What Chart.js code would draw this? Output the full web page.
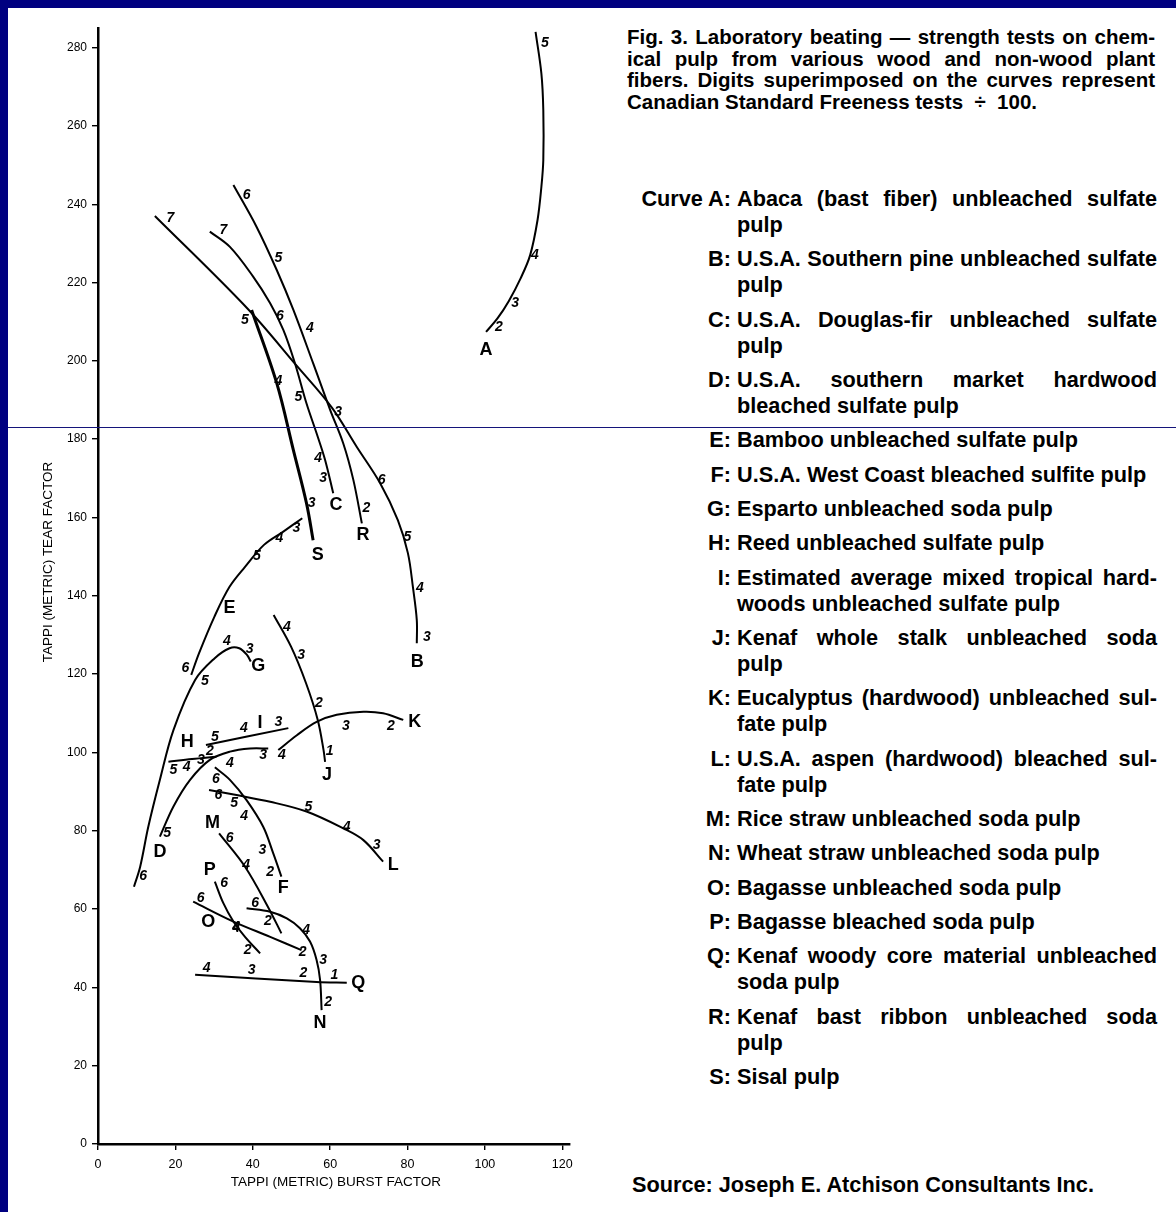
<!DOCTYPE html>
<html>
<head>
<meta charset="utf-8">
<script src="https://cdn.jsdelivr.net/npm/chart.js"></script>
<style>
  html, body { margin: 0; padding: 0; }
  body {
    width: 1176px; height: 1212px; position: relative; overflow: hidden;
    background: #000080;
    font-family: "Liberation Sans", Arial, sans-serif; color: #000;
  }
  .sheet { position: absolute; left: 8px; top: 8px; right: 0; bottom: 0; background: #fff; }
  #chart { position: absolute; left: 0; top: 0; }
  .scanline { position: absolute; left: 8px; right: 0; top: 427px; height: 1px; background: #14147a; }

  .caption {
    position: absolute; left: 627px; top: 26px; width: 528px;
    font-weight: bold; font-size: 20.5px; line-height: 21.7px;
  }
  .caption div, .key .txt div { white-space: nowrap; }
  .just { text-align: justify; text-align-last: justify; }

  .key {
    position: absolute; left: 627px; top: 186px; width: 530px;
    font-weight: bold; font-size: 21.7px; line-height: 26px;
  }
  .item { display: flex; margin-bottom: 8.33px; }
  .item .lab { width: 104px; flex: none; text-align: right; }
  .item .txt { margin-left: 6px; width: 420px; }

  .source {
    position: absolute; left: 632px; top: 1172px;
    font-weight: bold; font-size: 21.7px; line-height: 26px; white-space: nowrap;
  }
</style>
</head>
<body>
<div class="sheet"></div>
<canvas id="chart" width="620" height="1212"></canvas>

<div class="caption">
  <div class="just">Fig. 3. Laboratory beating — strength tests on chem-</div>
  <div class="just">ical pulp from various wood and non-wood plant</div>
  <div class="just">fibers. Digits superimposed on the curves represent</div>
  <div>Canadian Standard Freeness tests &nbsp;÷&nbsp; 100.</div>
</div>

<div class="key">
  <div class="item"><div class="lab">Curve A:</div><div class="txt"><div class="just">Abaca (bast fiber) unbleached sulfate</div><div>pulp</div></div></div>
  <div class="item"><div class="lab">B:</div><div class="txt"><div class="just">U.S.A. Southern pine unbleached sulfate</div><div>pulp</div></div></div>
  <div class="item"><div class="lab">C:</div><div class="txt"><div class="just">U.S.A. Douglas-fir unbleached sulfate</div><div>pulp</div></div></div>
  <div class="item"><div class="lab">D:</div><div class="txt"><div class="just">U.S.A. southern market hardwood</div><div>bleached sulfate pulp</div></div></div>
  <div class="item"><div class="lab">E:</div><div class="txt"><div>Bamboo unbleached sulfate pulp</div></div></div>
  <div class="item"><div class="lab">F:</div><div class="txt"><div>U.S.A. West Coast bleached sulfite pulp</div></div></div>
  <div class="item"><div class="lab">G:</div><div class="txt"><div>Esparto unbleached soda pulp</div></div></div>
  <div class="item"><div class="lab">H:</div><div class="txt"><div>Reed unbleached sulfate pulp</div></div></div>
  <div class="item"><div class="lab">I:</div><div class="txt"><div class="just">Estimated average mixed tropical hard-</div><div>woods unbleached sulfate pulp</div></div></div>
  <div class="item"><div class="lab">J:</div><div class="txt"><div class="just">Kenaf whole stalk unbleached soda</div><div>pulp</div></div></div>
  <div class="item"><div class="lab">K:</div><div class="txt"><div class="just">Eucalyptus (hardwood) unbleached sul-</div><div>fate pulp</div></div></div>
  <div class="item"><div class="lab">L:</div><div class="txt"><div class="just">U.S.A. aspen (hardwood) bleached sul-</div><div>fate pulp</div></div></div>
  <div class="item"><div class="lab">M:</div><div class="txt"><div>Rice straw unbleached soda pulp</div></div></div>
  <div class="item"><div class="lab">N:</div><div class="txt"><div>Wheat straw unbleached soda pulp</div></div></div>
  <div class="item"><div class="lab">O:</div><div class="txt"><div>Bagasse unbleached soda pulp</div></div></div>
  <div class="item"><div class="lab">P:</div><div class="txt"><div>Bagasse bleached soda pulp</div></div></div>
  <div class="item"><div class="lab">Q:</div><div class="txt"><div class="just">Kenaf woody core material unbleached</div><div>soda pulp</div></div></div>
  <div class="item"><div class="lab">R:</div><div class="txt"><div class="just">Kenaf bast ribbon unbleached soda</div><div>pulp</div></div></div>
  <div class="item"><div class="lab">S:</div><div class="txt"><div>Sisal pulp</div></div></div>
</div>

<div class="source">Source: Joseph E. Atchison Consultants Inc.</div>
<div class="scanline"></div>

<script>
// axis ticks
const xTicks = [0, 20, 40, 60, 80, 100, 120];
const yTicks = [0, 20, 40, 60, 80, 100, 120, 140, 160, 180, 200, 220, 240, 260, 280];

// curves: [burst factor, tear factor]
const curveA = [[100.3, 207.4], [103.3, 210.9], [106.2, 215.3], [109.2, 221.0], [111.7, 227.0], [113.6, 235.9], [114.6, 244.4], [115.1, 251.3], [115.1, 264.0], [114.6, 273.4], [113.1, 284.0]];
const curveB = [[14.7, 237.0], [38.5, 213.5], [51.4, 198.7], [60.5, 188.0], [66.9, 178.0], [72.9, 168.8], [77.5, 159.3], [80.1, 150.9], [81.4, 142.2], [82.4, 133.8], [82.4, 127.9]];
const curveC = [[28.9, 233.0], [34.1, 229.1], [40.1, 221.5], [44.5, 214.7], [47.9, 207.9], [50.9, 199.4], [53.9, 189.1], [56.5, 181.5], [58.7, 174.7], [60.8, 166.2]];
const curveD = [[16.0, 78.5], [19.5, 86.2], [23.8, 93.0], [28.9, 98.1], [34.1, 100.2], [39.3, 101.0], [44.0, 101.0]];
const curveE = [[24.1, 119.8], [26.1, 125.3], [30.1, 134.7], [34.0, 142.3], [38.0, 147.4], [42.9, 153.0], [47.9, 156.4], [52.8, 159.8]];
const curveF = [[30.2, 96.2], [34.1, 93.0], [38.4, 87.8], [42.7, 81.0], [45.3, 74.2], [47.4, 68.3]];
const curveG = [[9.3, 65.7], [10.9, 70.8], [13.0, 81.0], [16.0, 93.0], [19.5, 105.7], [25.1, 118.5], [30.1, 124.0], [34.0, 126.6], [36.5, 126.6], [38.5, 124.9], [39.5, 123.2]];
const curveH = [[18.2, 97.6], [24.3, 98.3], [30.6, 98.9]];
const curveI = [[27.9, 101.9], [49.2, 106.2]];
const curveJ = [[45.4, 135.1], [49.9, 127.0], [53.8, 117.6], [56.8, 108.3], [58.3, 100.6], [58.7, 97.6]];
const curveK = [[46.6, 100.6], [51.4, 104.4], [56.5, 107.8], [61.7, 109.6], [68.6, 110.4], [73.7, 110.0], [78.9, 108.3]];
const curveL = [[28.7, 90.4], [35.8, 89.1], [44.5, 87.4], [53.9, 84.9], [63.4, 80.6], [68.6, 77.6], [73.7, 72.1]];
const curveM = [[31.3, 79.3], [38.0, 70.8], [43.9, 60.6], [47.4, 53.8]];
const curveN = [[38.4, 60.2], [44.5, 59.3], [48.8, 57.6], [52.2, 55.1], [54.8, 51.7], [56.5, 47.0], [57.4, 41.9], [57.8, 34.2]];
const curveO = [[24.6, 61.9], [35.0, 56.8], [44.5, 52.9], [52.6, 49.5]];
const curveP = [[30.2, 67.0], [32.4, 61.5], [35.0, 56.8], [38.0, 52.9], [41.9, 48.7]];
const curveQ = [[25.1, 43.2], [56.5, 41.4], [64.3, 41.2]];
const curveR = [[35.0, 244.9], [41.0, 234.2], [46.2, 223.2], [50.5, 213.0], [55.6, 199.4], [60.0, 187.5], [63.4, 178.9], [66.0, 169.6], [68.2, 158.5]];
const curveS = [[39.7, 213.0], [46.2, 194.3], [50.5, 177.2], [53.9, 163.6], [55.6, 154.2]];

// freeness digits (CSF / 100) written along each curve
const freenessA = [[103.6, 208.6, '2'], [107.8, 214.8, '3'], [112.9, 227.0, '4'], [115.5, 281.2, '5']];
const freenessB = [[18.7, 236.4, '7'], [73.3, 169.6, '6'], [80.0, 155.1, '5'], [83.2, 141.9, '4'], [85.0, 129.5, '3']];
const freenessC = [[32.4, 233.4, '7'], [47.0, 211.3, '6'], [51.8, 190.8, '5'], [56.9, 175.1, '4'], [58.2, 170.0, '3']];
const freenessD = [[17.9, 79.4, '5'], [34.1, 97.2, '4'], [42.7, 99.3, '3']];
const freenessE = [[22.6, 121.5, '6'], [41.1, 150.0, '5'], [46.9, 154.7, '4'], [51.3, 157.2, '3']];
const freenessF = [[30.5, 93.1, '6'], [35.2, 87.0, '5'], [37.8, 83.6, '4'], [42.5, 75.1, '3'], [44.5, 69.5, '2']];
const freenessG = [[11.7, 68.3, '6'], [27.6, 118.1, '5'], [33.3, 128.5, '4'], [39.2, 126.3, '3']];
const freenessH = [[19.5, 95.5, '5'], [22.9, 96.2, '4'], [26.6, 98.1, '3'], [28.9, 100.2, '2']];
const freenessI = [[30.2, 104.0, '5'], [37.7, 106.2, '4'], [46.6, 107.8, '3']];
const freenessJ = [[48.8, 132.1, '4'], [52.5, 124.9, '3'], [57.1, 112.7, '2'], [59.9, 100.2, '1']];
const freenessK = [[47.5, 99.3, '4'], [64.1, 106.8, '3'], [75.7, 106.8, '2']];
const freenessL = [[31.1, 89.1, '6'], [54.4, 86.1, '5'], [64.3, 81.0, '4'], [72.0, 76.4, '3']];
const freenessM = [[34.0, 78.1, '6'], [38.3, 71.2, '4'], [43.9, 56.8, '2']];
const freenessN = [[40.6, 61.5, '6'], [53.8, 54.6, '4'], [58.2, 47.0, '3'], [59.5, 36.3, '2']];
const freenessO = [[26.5, 62.7, '6'], [35.8, 55.1, '4'], [52.9, 49.1, '2']];
const freenessP = [[32.6, 66.6, '6'], [35.7, 55.3, '4'], [38.7, 49.5, '2']];
const freenessQ = [[28.1, 44.9, '4'], [39.7, 44.4, '3'], [53.1, 43.6, '2'], [61.1, 43.2, '1']];
const freenessR = [[38.4, 242.3, '6'], [46.6, 226.2, '5'], [54.8, 208.4, '4'], [62.1, 187.0, '3'], [69.4, 162.4, '2']];
const freenessS = [[38.0, 210.4, '5'], [46.6, 194.7, '4'], [55.2, 163.6, '3']];

// curve letters
const curveLetters = [
  ['A', 100.3, 202.8], ['B', 82.5, 123.2], ['C', 61.5, 163.2], ['D', 16.0, 74.6],
  ['E', 34.0, 136.8], ['F', 47.9, 65.3], ['G', 41.4, 122.1], ['H', 23.1, 102.7],
  ['I', 41.9, 107.4], ['J', 59.2, 94.2], ['K', 81.9, 107.8], ['L', 76.3, 71.2],
  ['M', 29.6, 81.9], ['N', 57.4, 30.8], ['O', 28.5, 56.8], ['P', 28.9, 70.0],
  ['Q', 67.3, 41.0], ['R', 68.5, 155.5], ['S', 56.8, 150.4]
];

const xTitle = 'TAPPI (METRIC) BURST FACTOR';
const yTitle = 'TAPPI (METRIC) TEAR FACTOR';

const curves = {
  A: curveA, B: curveB, C: curveC, D: curveD, E: curveE, F: curveF, G: curveG,
  H: curveH, I: curveI, J: curveJ, K: curveK, L: curveL, M: curveM, N: curveN,
  O: curveO, P: curveP, Q: curveQ, R: curveR, S: curveS
};
const freeness = [freenessA, freenessB, freenessC, freenessD, freenessE, freenessF, freenessG,
  freenessH, freenessI, freenessJ, freenessK, freenessL, freenessM, freenessN,
  freenessO, freenessP, freenessQ, freenessR, freenessS];

const FONT = '"Liberation Sans", Arial, sans-serif';

const annotate = {
  id: 'annotate',
  afterDatasetsDraw(chart) {
    const { ctx, chartArea } = chart;
    const xs = chart.scales.x, ys = chart.scales.y;
    ctx.save();
    ctx.fillStyle = '#000';
    ctx.textAlign = 'center';
    ctx.textBaseline = 'middle';

    ctx.font = 'italic bold 14px ' + FONT;
    freeness.forEach(list => list.forEach(([vx, vy, t]) => {
      ctx.fillText(t, xs.getPixelForValue(vx), ys.getPixelForValue(vy));
    }));

    ctx.font = 'bold 18px ' + FONT;
    curveLetters.forEach(([t, vx, vy]) => {
      ctx.fillText(t, xs.getPixelForValue(vx), ys.getPixelForValue(vy));
    });

    // axis titles
    ctx.font = '13.5px ' + FONT;
    ctx.fillText(xTitle, xs.getPixelForValue(61.5), chartArea.bottom + 38);
    ctx.translate(chartArea.left - 50, ys.getPixelForValue(148.6));
    ctx.rotate(-Math.PI / 2);
    ctx.fillText(yTitle, 0, 0);
    ctx.restore();
  }
};

new Chart(document.getElementById('chart'), {
  type: 'scatter',
  data: {
    datasets: Object.entries(curves).map(([name, pts]) => ({
      label: name,
      data: pts.map(([x, y]) => ({ x, y })),
      showLine: true,
      borderColor: '#000',
      borderWidth: name === 'S' ? 3 : 2,
      pointRadius: 0,
      tension: 0.35,
      fill: false,
      clip: false
    }))
  },
  options: {
    responsive: false,
    animation: false,
    devicePixelRatio: 1,
    layout: { padding: { top: 28, right: 50, bottom: 0, left: 0 } },
    plugins: { legend: { display: false }, tooltip: { enabled: false } },
    scales: {
      x: {
        type: 'linear', min: 0, max: 122,
        afterBuildTicks: s => { s.ticks = xTicks.map(v => ({ value: v })); },
        afterFit: s => { s.height = 68; },
        border: { display: true, color: '#000', width: 2.5 },
        grid: { drawOnChartArea: false, drawTicks: true, tickLength: 6, color: '#000', lineWidth: 1.4 },
        ticks: { color: '#000', font: { family: FONT, size: 12.5 }, padding: 7, maxRotation: 0, autoSkip: false }
      },
      y: {
        type: 'linear', min: 0, max: 285,
        afterBuildTicks: s => { s.ticks = yTicks.map(v => ({ value: v })); },
        afterFit: s => { s.width = 98; },
        border: { display: true, color: '#000', width: 2.5 },
        grid: { drawOnChartArea: false, drawTicks: true, tickLength: 6, color: '#000', lineWidth: 1.4 },
        ticks: { color: '#000', font: { family: FONT, size: 12 }, padding: 5, autoSkip: false }
      }
    }
  },
  plugins: [annotate]
});
</script>
</body>
</html>
